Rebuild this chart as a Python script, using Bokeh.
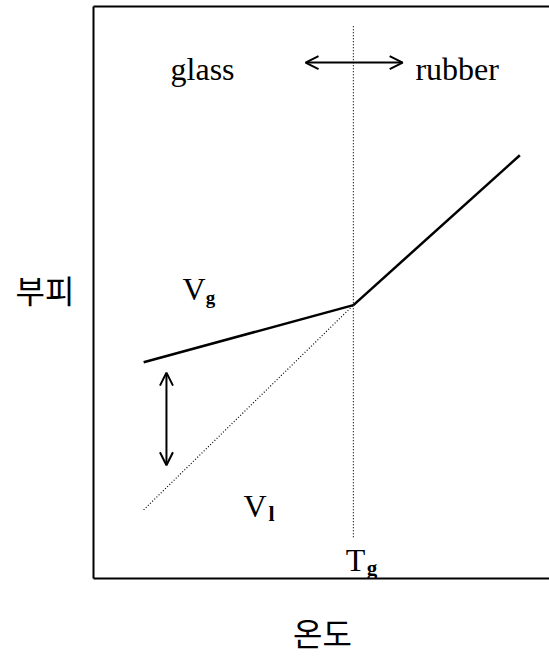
from bokeh.plotting import figure
from bokeh.models import Range1d, LinearAxis, Arrow, OpenHead, ColumnDataSource, FixedTicker
from bokeh.core.properties import value
from bokeh.embed import file_html
from bokeh.resources import INLINE

# ---- data (temperature T, specific volume V; arbitrary units) ----
glass_T = [11, 57]
glass_V = [37.8, 47.8]
rubber_T = [57, 93.5]
rubber_V = [47.8, 74.0]
liquid_T = [11, 57]
liquid_V = [12.0, 47.8]
tg_T = [57, 57]
tg_V = [7.2, 96.6]
transition_arrow_T = [46.5, 67.8]
transition_arrow_V = 90.2
gap_arrow_T = 16
gap_arrow_V = [36.0, 19.8]

label_text = ["glass", "rubber", "V", "V", "T"]
label_T = [16.9, 70.6, 19.5, 32.9, 55.3]
label_V = [89.0, 89.0, 50.6, 12.7, 3.3]

sub_text = ["g", "l", "g"]
sub_T = [24.6, 38.4, 59.9]
sub_V = [49.1, 11.4, 1.9]
sub_size = ["19px", "22px", "21px"]

x_title = "온도"
x_title_pos = 50.2
y_title = "부피"
y_title_pos = 50.6

p = figure(width=549, height=657, output_backend="svg", toolbar_location=None,
           x_range=Range1d(0, 100), y_range=Range1d(0, 100),
           min_border_left=93, min_border_right=0, min_border_top=6, min_border_bottom=70,
           x_axis_location=None, y_axis_location=None)
p.outline_line_color = None
p.grid.visible = False
p.background_fill_color = "white"
p.border_fill_color = "white"

axis_style = dict(axis_line_width=2, axis_line_color="black",
                  major_tick_line_color=None, minor_tick_line_color=None,
                  major_tick_out=0, major_tick_in=0, minor_tick_out=0, minor_tick_in=0,
                  major_label_text_font="Noto Sans CJK KR",
                  major_label_text_font_size="32px", major_label_text_color="black")

left_ax = LinearAxis(ticker=FixedTicker(ticks=[y_title_pos]),
                     major_label_overrides={y_title_pos: y_title},
                     major_label_standoff=19, **axis_style)
bottom_ax = LinearAxis(ticker=FixedTicker(ticks=[x_title_pos]),
                       major_label_overrides={x_title_pos: x_title},
                       major_label_standoff=30, **axis_style)
top_ax = LinearAxis(ticker=FixedTicker(ticks=[]), **axis_style)
p.add_layout(left_ax, "left")
p.add_layout(bottom_ax, "below")
p.add_layout(top_ax, "above")

# lines
p.line(glass_T, glass_V, line_width=2.5, line_color="black")
p.line(rubber_T, rubber_V, line_width=2.5, line_color="black")
p.line(liquid_T, liquid_V, line_width=1.2, line_color="black", line_dash="1 2")
p.line(tg_T, tg_V, line_width=1.2, line_color="black", line_dash="1 2")

# arrows
for xs, xe, ys, ye in [(transition_arrow_T[0], transition_arrow_T[1], transition_arrow_V, transition_arrow_V),
                       (gap_arrow_T, gap_arrow_T, gap_arrow_V[0], gap_arrow_V[1])]:
    p.add_layout(Arrow(x_start=xs, x_end=xe, y_start=ys, y_end=ye,
                       line_width=2, line_color="black",
                       start=OpenHead(size=13, line_width=2, line_color="black"),
                       end=OpenHead(size=13, line_width=2, line_color="black")))

# texts
src = ColumnDataSource(dict(x=label_T, y=label_V, t=label_text))
p.text(x="x", y="y", text="t", source=src, text_font=value("Liberation Serif"),
       text_font_size="32px", text_align="left", text_baseline="alphabetic",
       text_color="black")
ssrc = ColumnDataSource(dict(x=sub_T, y=sub_V, t=sub_text, s=sub_size))
p.text(x="x", y="y", text="t", source=ssrc, text_font=value("Liberation Serif"),
       text_font_size="s", text_font_style="bold", text_align="left",
       text_baseline="alphabetic", text_color="black")

open("out.html", "w").write(file_html(p, INLINE))
